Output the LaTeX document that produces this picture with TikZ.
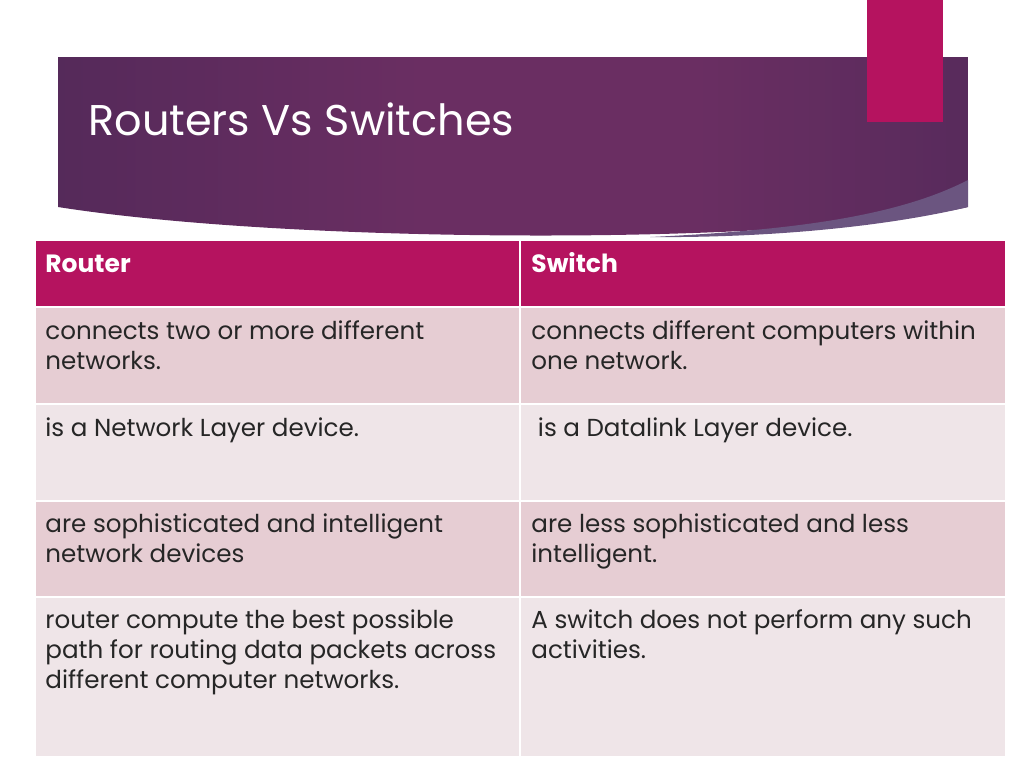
\documentclass[tikz,border=0pt]{standalone}
\usepackage{fontspec}
\setmainfont{Poppins}
\definecolor{hdr}{HTML}{B5135F}
\definecolor{rowa}{HTML}{E6CDD3}
\definecolor{rowb}{HTML}{EFE5E8}
\definecolor{bandl}{HTML}{3B2450}
\definecolor{bandm}{HTML}{6A2E62}
\definecolor{bandr}{HTML}{3A2652}
\definecolor{flap}{HTML}{6B5580}
\pgfdeclarehorizontalshading{banner}{100bp}{color(0bp)=(bandl); color(45bp)=(bandm); color(60bp)=(bandm); color(100bp)=(bandr)}
\tikzset{
  cell/.style={draw=white, line width=1pt},
  celltext/.style={anchor=north west, align=left, inner sep=0pt, font=\fontsize{12.3}{15}\selectfont, text=black!85},
  headtext/.style={anchor=base west, inner sep=0pt, font=\fontsize{12.5}{15}\selectfont\bfseries, text=white}
}
\begin{document}
\begin{tikzpicture}[x=0.5pt, y=-0.5pt]
    \useasboundingbox (0,0) rectangle (1024,768);
    % banner
    \shade[shading=banner]
      (58,57) -- (968,57) -- (968,207) .. controls (800,245) and (300,245) .. (58,207) -- cycle;
    \fill[flap] (968,180) -- (968,207) .. controls (880,228) and (760,238) .. (650,237) .. controls (800,230) and (900,215) .. (968,180) -- cycle;
    \fill[hdr] (867,0) rectangle (943,122);
    \node[anchor=west, inner sep=0pt, text=white, font=\fontsize{21.5}{26}\selectfont] (title) at (88,119) {Routers Vs Switches};
    % table cells
    \foreach \ya/\yb/\c [count=\i] in {240/307/hdr, 307/404/rowa, 404/501/rowb, 501/597/rowa, 597/757/rowb}{
      \filldraw[cell, fill=\c] (35,\ya) rectangle (520,\yb);
      \filldraw[cell, fill=\c] (520,\ya) rectangle (1006,\yb);
    }
    % header
    \node[headtext] (h1) at (45,272) {Router};
    \node[headtext] (h2) at (531,272) {Switch};
    % rows
    \node[celltext] (a1) at (45,320) {connects two or more different\\networks.};
    \node[celltext] (b1) at (531,320) {connects different computers within\\one network.};
    \node[celltext] (a2) at (45,417) {is a Network Layer device.};
    \node[celltext] (b2) at (531,417) {\ is a Datalink Layer device.};
    \node[celltext] (a3) at (45,513) {are sophisticated and intelligent\\network devices};
    \node[celltext] (b3) at (531,513) {are less sophisticated and less\\intelligent.};
    \node[celltext] (a4) at (45,609) {router compute the best possible\\path for routing data packets across\\different computer networks.};
    \node[celltext] (b4) at (531,609) {A switch does not perform any such\\activities.};
\end{tikzpicture}
\end{document}
